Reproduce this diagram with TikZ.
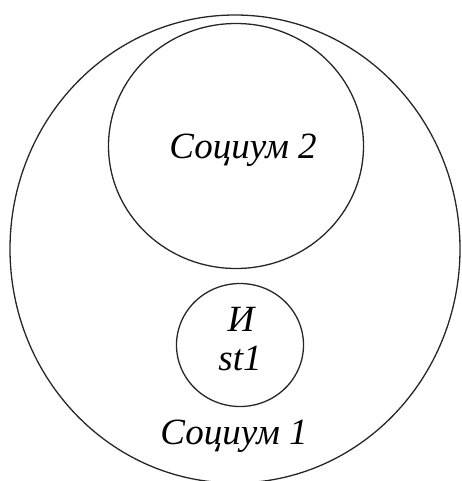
\documentclass[tikz,border=0pt]{standalone}
\usepackage{fontspec}
\setmainfont{Liberation Serif}
\usetikzlibrary{shapes.geometric}

\tikzset{
  socium/.style={draw=black!85, line width=1.3pt, ellipse, inner sep=0pt},
  lbl/.style={font=\fontsize{37}{40}\selectfont\itshape, inner sep=0pt}
}

\begin{document}
\begin{tikzpicture}[x=1pt, y=-1pt]
  \useasboundingbox (0,0) rectangle (461,481);
  % outer and inner circles
  \node[socium, minimum width=450, minimum height=468] (soc1) at (235,249) {};
  \node[socium, minimum width=255, minimum height=245] (soc2) at (236,146) {};
  \node[socium, minimum width=127, minimum height=123] (ind) at (240,345) {};
  % labels
  \node[lbl] (soc2lbl) at (243,150) {Социум 2};
  \node[lbl] (indlbl) at (241,319) {И};
  \node[lbl] (stlbl) at (240,358) {st1};
  \node[lbl] (soc1lbl) at (234,436) {Социум 1};
\end{tikzpicture}
\end{document}
